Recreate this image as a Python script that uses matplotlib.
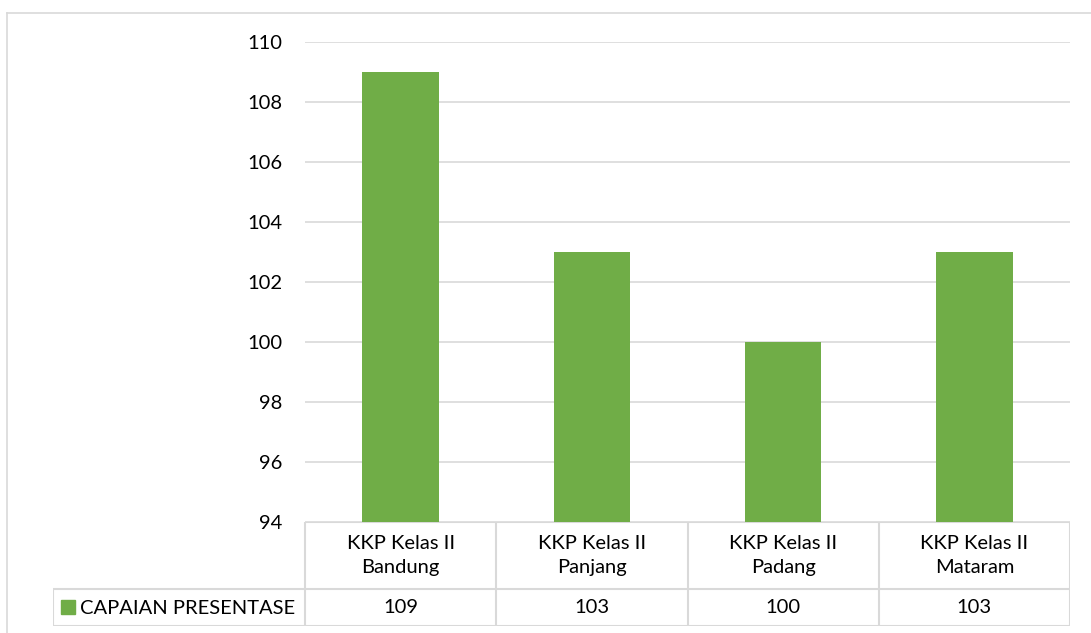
import matplotlib.pyplot as plt
from matplotlib.patches import Rectangle

categories = ['KKP Kelas II\nBandung', 'KKP Kelas II\nPanjang', 'KKP Kelas II\nPadang', 'KKP Kelas II\nMataram']
values = [109, 103, 100, 103]
series_name = 'CAPAIAN PRESENTASE'
yticks = [94, 96, 98, 100, 102, 104, 106, 108, 110]

W, H = 1091, 633
green = '#70AD47'
grid = '#D9D9D9'
fs = 14.5
plt.rcParams['font.family'] = ['Lato', 'DejaVu Sans']

fig = plt.figure(figsize=(W / 100, H / 100), dpi=100)

# outer chart frame (left + top edges visible)
fig.add_artist(plt.Line2D([7 / W, 7 / W], [0, 1 - 13 / H], color=grid, lw=1.2))
fig.add_artist(plt.Line2D([7 / W, 1], [1 - 13 / H, 1 - 13 / H], color=grid, lw=1.2))

# main plot area
x0, x1 = 305, 1070
y_top, y_bot = 42, 522
ax = fig.add_axes([x0 / W, 1 - y_bot / H, (x1 - x0) / W, (y_bot - y_top) / H])
ax.bar(range(len(values)), values, width=0.4, color=green, zorder=3)
ax.set_xlim(-0.5, len(values) - 0.5)
ax.set_ylim(94, 110)
ax.set_yticks(yticks)
ax.set_yticklabels([str(t) for t in yticks], fontsize=fs)
ax.yaxis.grid(True, color=grid, lw=1.2, zorder=0)
ax.set_xticks([])
for s in ax.spines.values():
    s.set_visible(False)
ax.tick_params(axis='y', length=0, pad=16)

# data table below the plot
t_left, t_bot = 53, 626
px_per_unit = (x1 - x0) / len(values)
tx_min = -0.5 - (x0 - t_left) / px_per_unit
tab = fig.add_axes([t_left / W, 1 - t_bot / H, (x1 - t_left) / W, (t_bot - y_bot) / H])
tab.set_xlim(tx_min, len(values) - 0.5)
tab.set_ylim(t_bot, y_bot)  # pixel rows, top = 522
tab.axis('off')
row_mid = 589
lk = dict(color=grid, lw=1.5, solid_capstyle='butt')
tab.plot([-0.5, len(values) - 0.5], [y_bot, y_bot], **lk)
tab.plot([tx_min, len(values) - 0.5], [row_mid, row_mid], **lk)
tab.plot([tx_min, len(values) - 0.5], [t_bot, t_bot], **lk)
tab.plot([tx_min, tx_min], [row_mid, t_bot], **lk)
for i in range(len(values) + 1):
    tab.plot([i - 0.5, i - 0.5], [y_bot, t_bot], **lk)
for i, (c, v) in enumerate(zip(categories, values)):
    tab.text(i, (y_bot + row_mid) / 2, c, ha='center', va='center', fontsize=fs, linespacing=1.45)
    tab.text(i, (row_mid + t_bot) / 2, str(v), ha='center', va='center', fontsize=fs)
sq = 14 / px_per_unit
tab.add_patch(Rectangle((tx_min + 8 / px_per_unit, 600), sq, 14, color=green))
tab.text(tx_min + 27 / px_per_unit, (row_mid + t_bot) / 2 + 1, series_name, ha='left', va='center', fontsize=fs)

fig.savefig('out.png', dpi=100)
